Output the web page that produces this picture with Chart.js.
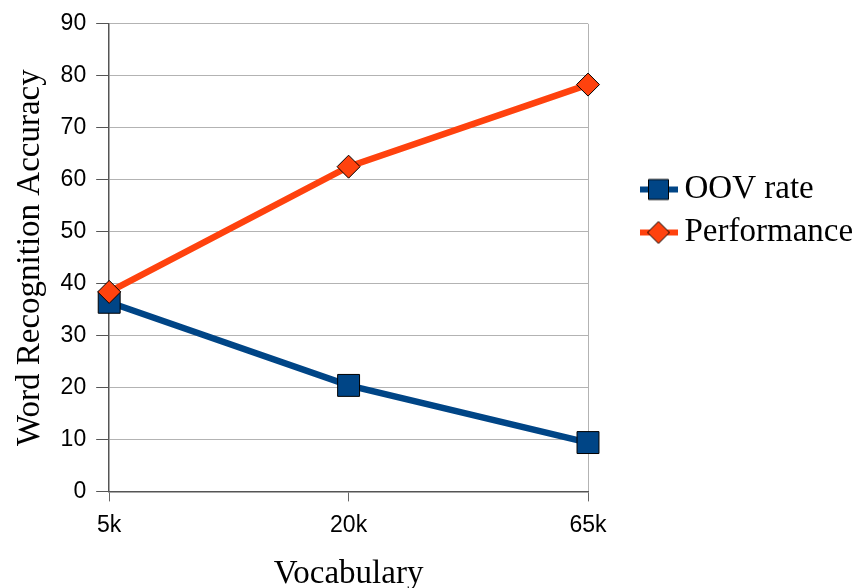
<!DOCTYPE html>
<html>
<head>
<meta charset="utf-8">
<script src="https://cdn.jsdelivr.net/npm/chart.js@4.4.0/dist/chart.umd.min.js"></script>
<style>
  html, body { margin: 0; padding: 0; background: #fff; }
  #wrap { width: 857px; height: 588px; position: relative; }
</style>
</head>
<body>
<div id="wrap"><canvas id="chart"></canvas></div>
<script>
// valores
const vocabLabels = ['5k', '20k', '65k'];
const oovRate = [36.4, 20.4, 9.4];
const performance = [38.4, 62.5, 78.3];
const seriesNames = ['OOV rate', 'Performance'];

const BLUE = '#004586';
const ORANGE = '#ff420e';

// icono de leyenda: linea + marcador
function legendIcon(color, shape) {
    const c = document.createElement('canvas');
    c.width = 90;
    c.height = 26;
    const g = c.getContext('2d');
    g.fillStyle = color;
    g.fillRect(52, 10, 38, 6);
    g.strokeStyle = '#000';
    g.lineWidth = 1;
    const cx = 70.5, cy = 13;
    g.beginPath();
    if (shape === 'rect') {
        g.rect(cx - 10, cy - 10, 20, 20);
    } else {
        g.moveTo(cx - 11, cy);
        g.lineTo(cx, cy - 11);
        g.lineTo(cx + 11, cy);
        g.lineTo(cx, cy + 11);
        g.closePath();
    }
    g.fill();
    g.stroke();
    return c;
}

const icons = [legendIcon(BLUE, 'rect'), legendIcon(ORANGE, 'diamond')];

const ctx = document.getElementById('chart').getContext('2d');
new Chart(ctx, {
    type: 'line',
    data: {
        labels: vocabLabels,
        datasets: [{
            label: seriesNames[0],
            data: oovRate,
            borderColor: BLUE,
            backgroundColor: BLUE,
            borderWidth: 6.5,
            pointStyle: 'rect',
            pointRadius: 15.5,
            pointBorderColor: '#000',
            pointBorderWidth: 1,
            tension: 0,
            order: 2
        }, {
            label: seriesNames[1],
            data: performance,
            borderColor: ORANGE,
            backgroundColor: ORANGE,
            borderWidth: 6.5,
            pointStyle: 'rectRot',
            pointRadius: 11.5,
            pointBorderColor: '#000',
            pointBorderWidth: 1,
            tension: 0,
            order: 1
        }]
    },
    options: {
        responsive: true,
        maintainAspectRatio: false,
        animation: false,
        layout: { padding: { top: 22, left: 0, right: 0, bottom: -3 } },
        plugins: {
            tooltip: { enabled: false },
            legend: {
                position: 'right',
                align: 'start',
                maxWidth: 269,
                title: { display: true, text: '', font: { size: 10 }, padding: { top: 129, bottom: 0 } },
                labels: {
                    usePointStyle: true,
                    pointStyleWidth: 70,
                    padding: 10,
                    color: '#000',
                    font: { family: '"Liberation Serif", "Times New Roman", serif', size: 33 },
                    generateLabels: () => seriesNames.map((name, i) => ({
                        text: name,
                        pointStyle: icons[i],
                        fontColor: '#000',
                        fillStyle: 'transparent',
                        strokeStyle: 'transparent',
                        lineWidth: 0,
                        hidden: false,
                        datasetIndex: i
                    }))
                }
            }
        },
        scales: {
            x: {
                offset: false,
                grid: {
                    color: c => c.index === vocabLabels.length - 1 ? '#b3b3b3' : 'rgba(0,0,0,0)',
                    tickColor: '#666',
                    tickLength: 10,
                    lineWidth: 1
                },
                border: { color: '#555', width: 1.5 },
                ticks: {
                    color: '#000',
                    padding: 10,
                    font: { family: '"Liberation Sans", Arial, sans-serif', size: 23 }
                },
                title: {
                    display: true,
                    text: 'Vocabulary',
                    color: '#000',
                    font: { family: '"Liberation Serif", "Times New Roman", serif', size: 33, lineHeight: 1 },
                    padding: { top: 9, bottom: 0 }
                }
            },
            y: {
                min: 0,
                max: 90,
                ticks: {
                    stepSize: 10,
                    color: '#000',
                    padding: 10,
                    font: { family: '"Liberation Sans", Arial, sans-serif', size: 23 }
                },
                grid: {
                    color: '#b3b3b3',
                    tickColor: '#555',
                    tickLength: 13,
                    lineWidth: 1
                },
                border: { color: '#555', width: 1.5 },
                title: {
                    display: true,
                    text: 'Word Recognition Accuracy',
                    color: '#000',
                    font: { family: '"Liberation Serif", "Times New Roman", serif', size: 33 },
                    padding: { top: 11, bottom: 0 }
                }
            }
        }
    }
});
</script>
</body>
</html>
